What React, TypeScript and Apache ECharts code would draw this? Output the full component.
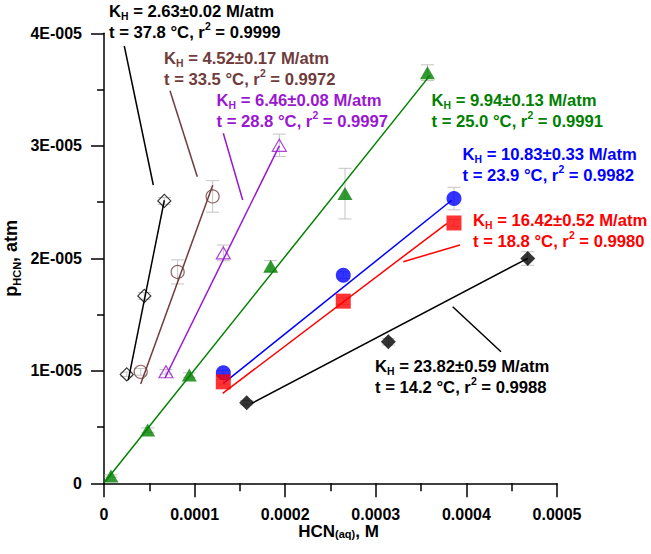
import React, { useEffect, useRef } from 'react';
import * as echarts from 'echarts';

// ---------- data (x: HCN(aq) in M, y: pHCN in atm, e: error in atm) ----------
const x378 = [2.51e-5, 4.45e-5, 6.66e-5];
const y378 = [0.968e-5, 1.666e-5, 2.51e-5];
const e378 = [0.02e-5, 0.03e-5, 0.03e-5];
const fit378 = [[2.68e-5, 0.917e-5], [6.66e-5, 2.516e-5]];

const x335 = [4.05e-5, 8.13e-5, 11.99e-5];
const y335 = [0.991e-5, 1.879e-5, 2.55e-5];
const e335 = [0.03e-5, 0.107e-5, 0.14e-5];
const fit335 = [[4.05e-5, 0.882e-5], [12.0e-5, 2.65e-5]];

const x288 = [6.84e-5, 13.17e-5, 19.35e-5];
const y288 = [0.991e-5, 2.048e-5, 3.004e-5];
const e288 = [0.02e-5, 0.07e-5, 0.1e-5];
const fit288 = [[6.73e-5, 0.936e-5], [19.35e-5, 3.0e-5]];

const x250 = [0.77e-5, 4.82e-5, 9.42e-5, 18.4e-5, 26.6e-5, 35.7e-5];
const y250 = [0.065e-5, 0.473e-5, 0.962e-5, 1.93e-5, 2.575e-5, 3.65e-5];
const e250 = [0.01e-5, 0.02e-5, 0.02e-5, 0.05e-5, 0.225e-5, 0.07e-5];
const fit250 = [[0.11e-5, 0.014e-5], [35.98e-5, 3.626e-5]];

const x239 = [13.17e-5, 26.41e-5, 38.63e-5];
const y239 = [0.982e-5, 1.85e-5, 2.531e-5];
const e239 = [0.02e-5, 0.03e-5, 0.1e-5];
const fit239 = [[13.17e-5, 0.888e-5], [38.38e-5, 2.516e-5]];

const x188 = [13.17e-5, 26.41e-5, 38.63e-5];
const y188 = [0.902e-5, 1.619e-5, 2.314e-5];
const e188 = [0.02e-5, 0.03e-5, 0.03e-5];
const fit188 = [[13.1e-5, 0.8e-5], [37.83e-5, 2.309e-5]];

const x142 = [15.75e-5, 31.38e-5, 46.77e-5];
const y142 = [0.716e-5, 1.258e-5, 1.998e-5];
const e142 = [0.02e-5, 0.03e-5, 0.06e-5];
const fit142 = [[16.3e-5, 0.71e-5], [46.77e-5, 2.0e-5]];

const xTicks = [0, 0.0001, 0.0002, 0.0003, 0.0004, 0.0005];
const yTicks = [0, 1e-5, 2e-5, 3e-5, 4e-5];

const kLines = ['K{sub|H} = 2.63±0.02 M/atm', 'K{sub|H} = 4.52±0.17 M/atm', 'K{sub|H} = 6.46±0.08 M/atm', 'K{sub|H} = 9.94±0.13 M/atm', 'K{sub|H} = 10.83±0.33 M/atm', 'K{sub|H} = 16.42±0.52 M/atm', 'K{sub|H} = 23.82±0.59 M/atm'];
const tLines = ['t = 37.8 °C, r{sup|2} = 0.9999', 't = 33.5 °C, r{sup|2} = 0.9972', 't = 28.8 °C, r{sup|2} = 0.9997', 't = 25.0 °C, r{sup|2} = 0.9991', 't = 23.9 °C, r{sup|2} = 0.9982', 't = 18.8 °C, r{sup|2} = 0.9980', 't = 14.2 °C, r{sup|2} = 0.9988'];

// ---------- styling / layout ----------
const FONT = '"Liberation Sans", Arial, Helvetica, sans-serif';
const BROWN = '#703c3c';
const PURPLE = '#9a18d0';
const GREEN = '#008000';
const BLUE = '#0000ff';
const RED = '#ff0000';
const BLACK = '#000000';

const zip = (xs: number[], ys: number[]) => xs.map((x, i) => [x, ys[i]]);
const zip3 = (xs: number[], ys: number[], es: number[]) => xs.map((x, i) => [x, ys[i], es[i]]);

const groups = [
  { name: '37.8', xs: x378, ys: y378, es: e378, fit: fit378, color: BLACK, symbol: 'diamond', size: 13, open: true },
  { name: '33.5', xs: x335, ys: y335, es: e335, fit: fit335, color: BROWN, symbol: 'circle', size: 13, open: true },
  { name: '28.8', xs: x288, ys: y288, es: e288, fit: fit288, color: PURPLE, symbol: 'triangle', size: [14, 12], open: true },
  { name: '25.0', xs: x250, ys: y250, es: e250, fit: fit250, color: GREEN, symbol: 'triangle', size: [15, 13], open: false },
  { name: '23.9', xs: x239, ys: y239, es: e239, fit: fit239, color: BLUE, symbol: 'circle', size: 15, open: false },
  { name: '18.8', xs: x188, ys: y188, es: e188, fit: fit188, color: RED, symbol: 'rect', size: 15, open: false },
  { name: '14.2', xs: x142, ys: y142, es: e142, fit: fit142, color: BLACK, symbol: 'diamond', size: 15, open: false },
];

// annotation layout: [left x, top y, colour]
const labelPos: [number, number, string][] = [
  [109, 1, BLACK],
  [164, 47.5, BROWN],
  [216.5, 89.5, PURPLE],
  [431.5, 89.5, GREEN],
  [462.5, 143.5, BLUE],
  [473, 209.5, RED],
  [375, 355.5, BLACK],
];
const leaders: [number, number, number, number, string][] = [
  [124.3, 46, 153.3, 185, BLACK],
  [170, 90.7, 197.3, 176.7, BROWN],
  [223.3, 133.3, 242.7, 200, PURPLE],
  [403.3, 261.7, 460, 245, RED],
  [452.7, 306.7, 501, 351.7, BLACK],
];

function richFor(color: string, size: number) {
  return {
    sub: { fontFamily: FONT, fontWeight: 'bold', fontSize: Math.round(size * 0.65), lineHeight: 10, verticalAlign: 'bottom', fill: color, color },
    sup: { fontFamily: FONT, fontWeight: 'bold', fontSize: Math.round(size * 0.65), lineHeight: 14, verticalAlign: 'top', fill: color, color },
  };
}

export default function App() {
  const ref = useRef<HTMLDivElement>(null);
  useEffect(() => {
    document.body.style.margin = '0';
    const chart = echarts.init(ref.current!, null, { renderer: 'svg' });

    const series: any[] = [];
    groups.forEach((g) => {
      series.push({
        type: 'custom',
        name: g.name + ' err',
        silent: true,
        z: 1,
        clip: false,
        data: zip3(g.xs, g.ys, g.es),
        renderItem: (params: any, api: any) => {
          const x = api.value(0);
          const y = api.value(1);
          const e = api.value(2);
          const p1 = api.coord([x, y + e]);
          const p2 = api.coord([x, y - e]);
          const hw = 6.5;
          const style = { stroke: '#c4c4c4', lineWidth: 1, fill: 'none' };
          return {
            type: 'group',
            children: [
              { type: 'line', shape: { x1: p1[0], y1: p1[1], x2: p2[0], y2: p2[1] }, style },
              { type: 'line', shape: { x1: p1[0] - hw, y1: p1[1], x2: p1[0] + hw, y2: p1[1] }, style },
              { type: 'line', shape: { x1: p2[0] - hw, y1: p2[1], x2: p2[0] + hw, y2: p2[1] }, style },
            ],
          };
        },
      });
      series.push({
        type: 'line',
        name: g.name + ' fit',
        data: g.fit,
        showSymbol: false,
        symbol: 'none',
        silent: true,
        z: 2,
        lineStyle: { color: g.color, width: 1.5 },
      });
      series.push({
        type: 'scatter',
        name: g.name,
        data: zip(g.xs, g.ys),
        symbol: g.symbol,
        symbolSize: g.size,
        z: 3,
        silent: true,
        itemStyle: g.open
          ? { color: 'rgba(0,0,0,0)', borderColor: g.color, borderWidth: 1.2 }
          : { color: g.color, borderWidth: 0 },
      });
    });

    const graphic: any[] = [];
    leaders.forEach(([x1, y1, x2, y2, c]) => {
      graphic.push({ type: 'line', shape: { x1, y1, x2, y2 }, style: { stroke: c, lineWidth: 1.5 }, silent: true, z: 10 });
    });
    labelPos.forEach(([x, y, c], i) => {
      graphic.push({
        type: 'text',
        x,
        y,
        scaleX: 1.04,
        z: 10,
        silent: true,
        style: {
          text: kLines[i] + '\n' + tLines[i],
          fill: c,
          fontFamily: FONT,
          fontWeight: 'bold',
          fontSize: 16,
          lineHeight: 21,
          align: 'left',
          verticalAlign: 'top',
          rich: richFor(c, 16),
        },
      });
    });

    const option: any = {
      animation: false,
      backgroundColor: '#ffffff',
      grid: { left: 104, top: 33.3, width: 453, height: 450, containLabel: false, outerBoundsMode: 'none' },
      xAxis: {
        type: 'value',
        min: xTicks[0],
        max: xTicks[xTicks.length - 1],
        interval: xTicks[1] - xTicks[0],
        name: 'HCN{sub|(aq)}, M',
        nameLocation: 'middle',
        nameGap: 40,
        nameMoveOverlap: false,
        nameTextStyle: {
          fontFamily: FONT,
          fontWeight: 'bold',
          fontSize: 17,
          color: '#000',
          lineHeight: 16,
          padding: [0, 0, 0, 16],
          rich: {
            sub: { fontFamily: FONT, fontWeight: 'bold', fontSize: 11, lineHeight: 10, verticalAlign: 'bottom', color: '#000' },
          },
        },
        axisLine: { lineStyle: { color: '#000', width: 1.5 } },
        axisTick: { length: 14, lineStyle: { color: '#000', width: 1.5 } },
        minorTick: { show: true, splitNumber: 2, length: 8, lineStyle: { color: '#000', width: 1.5 } },
        splitLine: { show: false },
        axisLabel: {
          margin: 23,
          fontFamily: FONT,
          fontWeight: 'bold',
          fontSize: 16,
          lineHeight: 16,
          color: '#000',
          hideOverlap: false,
          formatter: (v: number) => (v === 0 ? '0' : v.toFixed(4)),
        },
      },
      yAxis: {
        type: 'value',
        min: yTicks[0],
        max: yTicks[yTicks.length - 1],
        interval: yTicks[1] - yTicks[0],
        name: 'p{sub|HCN}, atm',
        nameLocation: 'middle',
        nameGap: 82,
        nameMoveOverlap: false,
        nameTextStyle: {
          fontFamily: FONT,
          fontWeight: 'bold',
          fontSize: 18,
          color: '#000',
          lineHeight: 22,
          rich: {
            sub: { fontFamily: FONT, fontWeight: 'bold', fontSize: 11, lineHeight: 12, verticalAlign: 'bottom', color: '#000' },
          },
        },
        axisLine: { show: true, lineStyle: { color: '#000', width: 1.5 } },
        axisTick: { show: true, length: 13, lineStyle: { color: '#000', width: 1.5 } },
        minorTick: { show: true, splitNumber: 2, length: 7, lineStyle: { color: '#000', width: 1.5 } },
        splitLine: { show: false },
        axisLabel: {
          margin: 22,
          fontFamily: FONT,
          fontWeight: 'bold',
          fontSize: 16,
          color: '#000',
          hideOverlap: false,
          formatter: (v: number) => (v === 0 ? '0' : `${Math.round(v / 1e-5)}E-005`),
        },
      },
      series,
      graphic,
    };

    chart.setOption(option);
    return () => chart.dispose();
  }, []);
  return <div ref={ref} style={{ width: 651, height: 554 }} />;
}
